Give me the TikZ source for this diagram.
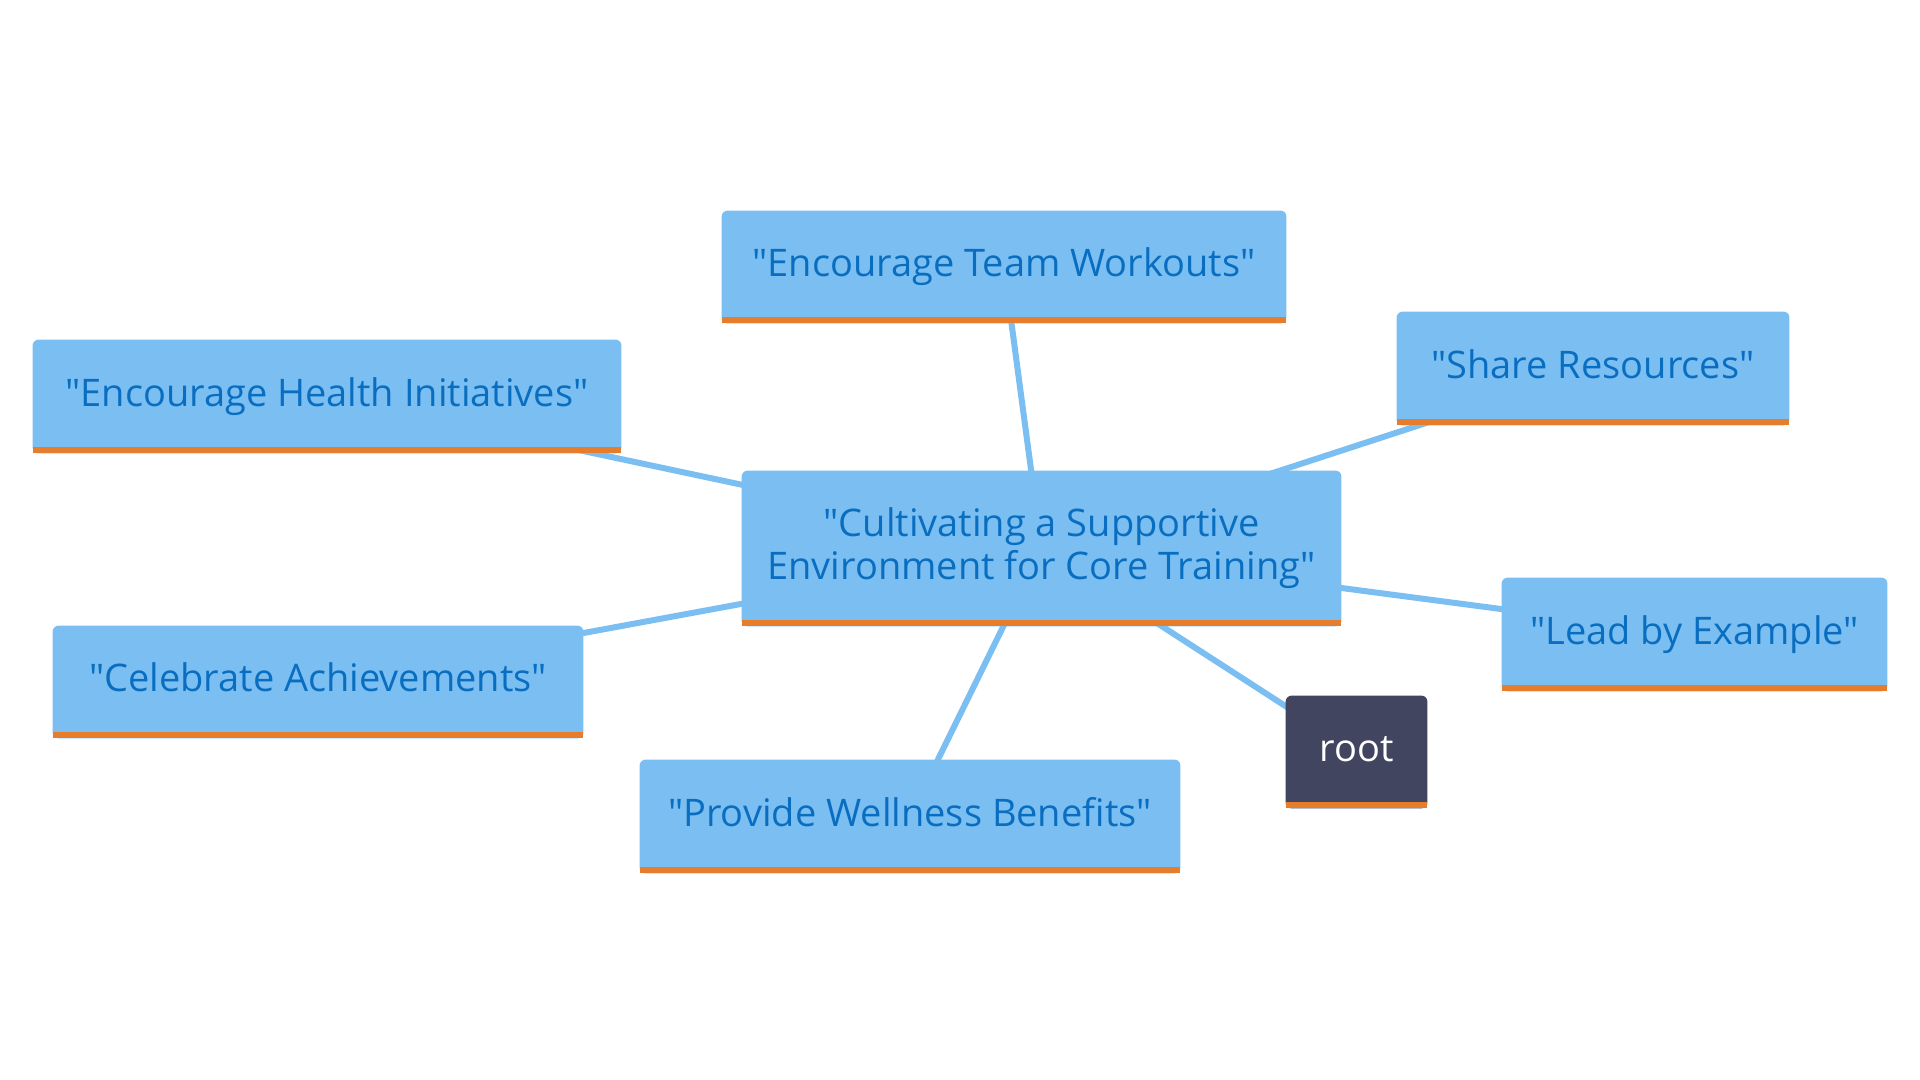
\documentclass[tikz,border=0pt]{standalone}
\usepackage{fontspec}
\newfontfamily\mmfont{Open Sans}
\pgfdeclarelayer{bgwhite}
\pgfdeclarelayer{lines}
\pgfdeclarelayer{boxes}
\pgfsetlayers{bgwhite,lines,boxes,main}
\definecolor{boxblue}{HTML}{7BBFF2}
\definecolor{txtblue}{HTML}{0A6EC0}
\definecolor{barorange}{HTML}{E67D2C}
\definecolor{rootdark}{HTML}{414560}
\tikzset{
  x=0.5pt, y=-0.5pt,
  mm/.style={draw=none, inner sep=0pt, align=center, text=txtblue,
    font=\mmfont\fontsize{19}{21.5}\selectfont},
  leaf/.style={mm, text height=14.5pt, text depth=4.6pt},
  rootnode/.style={leaf, text=white},
  link/.style={draw=boxblue, line width=3pt},
}
\newcommand{\mmbox}[2]{%
  \begin{pgfonlayer}{boxes}
    \fill[#2, rounded corners=3pt] (#1.south west) rectangle (#1.north east);
    \fill[#2] (#1.south west) rectangle ([yshift=8pt]#1.south east);
    \fill[barorange] (#1.south west) rectangle ([yshift=3pt]#1.south east);
  \end{pgfonlayer}}
\begin{document}
\begin{tikzpicture}
\begin{pgfonlayer}{bgwhite}
\fill[white] (0,0) rectangle (1920,1080);
\end{pgfonlayer}
\useasboundingbox (0,0) rectangle (1920,1080);
\node[mm, minimum width=299.5pt, minimum height=77.5pt] (C) at (1041.5,548.5) {"Cultivating a Supportive\\Environment for Core Training"};
\node[leaf, minimum width=282pt, minimum height=56pt] (T) at (1004,267) {"Encourage Team Workouts"};
\node[leaf, minimum width=196pt, minimum height=56.5pt] (S) at (1593,368.5) {"Share Resources"};
\node[leaf, minimum width=294pt, minimum height=56.5pt] (H) at (327,396.5) {"Encourage Health Initiatives"};
\node[leaf, minimum width=192.5pt, minimum height=56.5pt] (L) at (1694.5,634.5) {"Lead by Example"};
\node[leaf, minimum width=265pt, minimum height=56pt] (Ce) at (318,682) {"Celebrate Achievements"};
\node[leaf, minimum width=270pt, minimum height=56.5pt] (W) at (910,816.5) {"Provide Wellness Benefits"};
\node[rootnode, minimum width=70.5pt, minimum height=56pt] (R) at (1356.5,752) {root};
\mmbox{C}{boxblue}
\mmbox{T}{boxblue}
\mmbox{S}{boxblue}
\mmbox{H}{boxblue}
\mmbox{L}{boxblue}
\mmbox{Ce}{boxblue}
\mmbox{W}{boxblue}
\mmbox{R}{rootdark}
\begin{pgfonlayer}{lines}
\foreach \n in {T,S,H,L,Ce,W,R} \draw[link] (C.center) -- (\n.center);
\end{pgfonlayer}
\end{tikzpicture}
\end{document}
